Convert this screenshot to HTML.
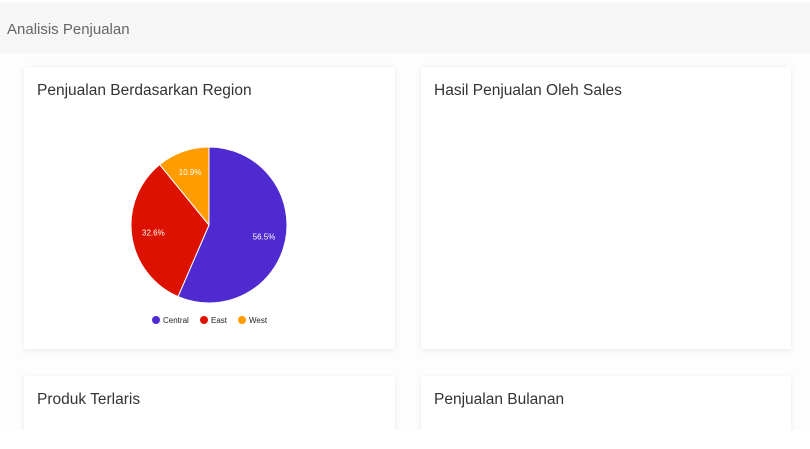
<!DOCTYPE html>
<html><head><meta charset="utf-8">
<style>
html,body{margin:0;padding:0;width:810px;height:449px;overflow:hidden;background:#fff;font-family:"Liberation Sans",sans-serif;}
#wrap{position:absolute;left:0;top:0;width:810px;height:430px;overflow:hidden;background:#fdfdfd;}
#header{position:absolute;left:0;top:3px;width:810px;height:50px;background:#f6f6f6;}
#header span{position:absolute;left:7px;top:18px;font-size:15px;color:#666;}
.card{position:absolute;background:#fff;box-shadow:0 1px 6px rgba(0,0,0,0.08);}
.card h3{position:absolute;left:13px;top:15px;margin:0;font-weight:normal;font-size:15.5px;color:#333;}
</style></head><body>
<div id="wrap">
<div id="header"><span>Analisis Penjualan</span></div>
<div class="card" style="left:24px;top:67px;width:371px;height:282px;">
<h3>Penjualan Berdasarkan Region</h3>
<svg id="pie" width="371" height="282" style="position:absolute;left:0;top:0"></svg>
</div>
<div class="card" style="left:421px;top:67px;width:370px;height:282px;">
<h3>Hasil Penjualan Oleh Sales</h3></div>
<div class="card" style="left:24px;top:376px;width:371px;height:80px;">
<h3>Produk Terlaris</h3></div>
<div class="card" style="left:421px;top:376px;width:370px;height:80px;">
<h3>Penjualan Bulanan</h3></div>
</div>
<script>
const regions = ["Central","East","West"];
const shares = [56.5, 32.6, 10.9];
const colors = ["#4e2ad0","#dd1100","#ff9d00"];
const svg = document.getElementById('pie');
const NS = "http://www.w3.org/2000/svg";
const cx = 185, cy = 158, r = 78;
const total = shares.reduce((a,b)=>a+b,0);
let ang = 0;
function pt(a, rr){return [cx + rr*Math.sin(a), cy - rr*Math.cos(a)];}
shares.forEach((v,i)=>{
  const a0 = ang, a1 = ang + v/total*2*Math.PI; ang = a1;
  const [x0,y0] = pt(a0,r), [x1,y1] = pt(a1,r);
  const p = document.createElementNS(NS,'path');
  p.setAttribute('d',`M${cx},${cy}L${x0},${y0}A${r},${r} 0 ${a1-a0>Math.PI?1:0} 1 ${x1},${y1}Z`);
  p.setAttribute('fill',colors[i]);
  p.setAttribute('stroke','#fff');
  p.setAttribute('stroke-width','1');
  
  
  svg.appendChild(p);
  const [lx,ly] = pt((a0+a1)/2, r*0.72);
  const t = document.createElementNS(NS,'text');
  t.setAttribute('x',lx); t.setAttribute('y',ly+3);
  t.setAttribute('text-anchor','middle');
  t.setAttribute('font-size','8');
  t.setAttribute('fill','#fff');
  t.textContent = v.toFixed(1)+'%';
  
  
  svg.appendChild(t);
});
const legX = [132, 180, 218];
regions.forEach((name,i)=>{
  const g = document.createElementNS(NS,'g');
  
  
  const c = document.createElementNS(NS,'circle');
  c.setAttribute('cx',legX[i]); c.setAttribute('cy',253); c.setAttribute('r',4);
  c.setAttribute('fill',colors[i]);
  g.appendChild(c);
  const t = document.createElementNS(NS,'text');
  t.setAttribute('x',legX[i]+7); t.setAttribute('y',256);
  t.setAttribute('font-size','8'); t.setAttribute('fill','#222');
  t.textContent = name;
  g.appendChild(t);
  svg.appendChild(g);
});
</script>
</body></html>
